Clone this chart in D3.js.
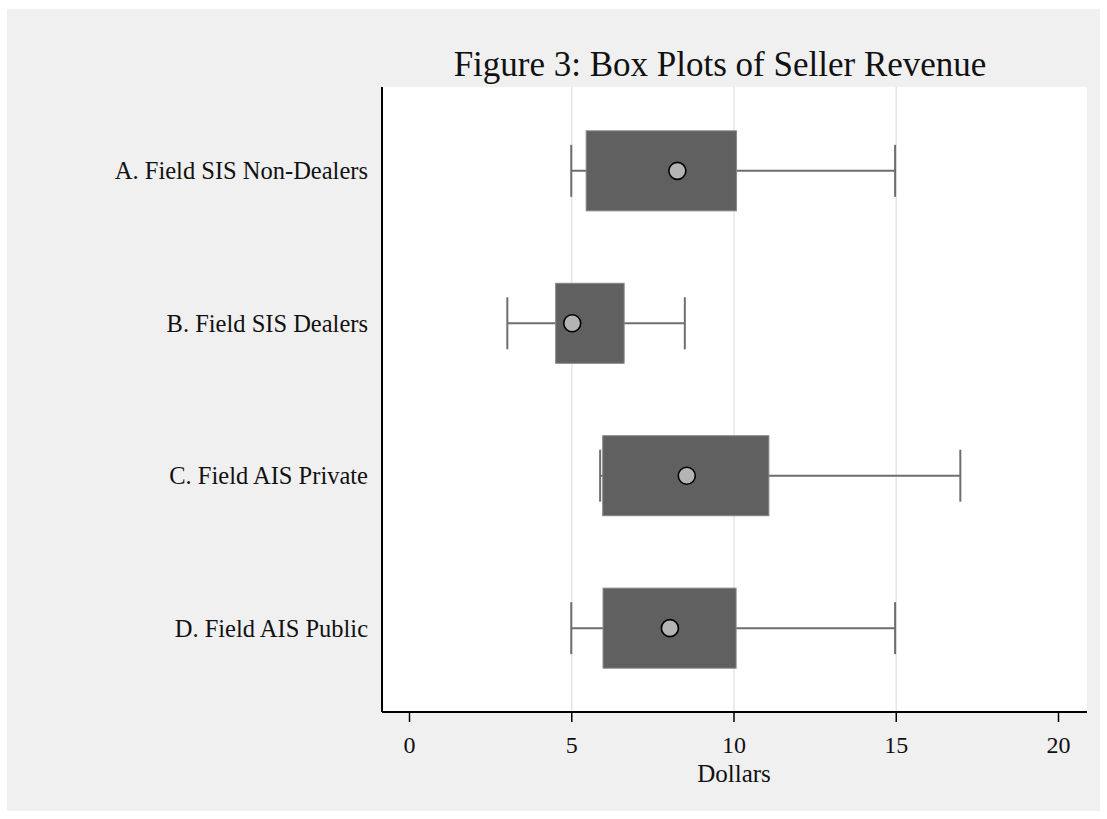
<!DOCTYPE html>
<html>
<head>
  <meta charset="UTF-8">
  <script src="https://d3js.org/d3.v7.min.js"></script>
  <style>
    body { margin: 0; background: #fff; }
    text { font-family: "Liberation Serif", "DejaVu Serif", serif; fill: #111; }
  </style>
</head>
<body>
  <svg id="chart" width="1107" height="819"></svg>

  <script>
    // data
    let categories = ["A. Field SIS Non-Dealers", "B. Field SIS Dealers", "C. Field AIS Private", "D. Field AIS Public"];
    let lowWhisker = [5.0, 3.03, 5.89, 5.0];
    let q1 = [5.46, 4.52, 5.97, 5.98];
    let centers = [8.27, 5.03, 8.56, 8.04];
    let q3 = [10.09, 6.63, 11.09, 10.08];
    let highWhisker = [14.98, 8.5, 16.99, 14.98];
    let xTicks = [0, 5, 10, 15, 20];
    let gridTicks = [5, 10, 15];

    let svg = d3.select("#chart");

    // outer gray panel
    svg.append("rect")
      .attr("x", 7).attr("y", 9)
      .attr("width", 1093).attr("height", 802)
      .attr("fill", "#f0f0f0");

    let plot = { left: 383, right: 1087, top: 87, bottom: 712 };

    svg.append("rect")
      .attr("x", plot.left).attr("y", plot.top)
      .attr("width", plot.right - plot.left).attr("height", plot.bottom - plot.top)
      .attr("fill", "#fff");

    let xScale = d3.scaleLinear()
      .domain([0, 20])
      .range([409, 1058]);

    let yScale = d3.scalePoint()
      .domain(categories)
      .range([plot.top, plot.bottom])
      .padding(0.55);

    // gridlines
    svg.append("g")
      .attr("transform", `translate(0, ${plot.bottom})`)
      .call(d3.axisBottom(xScale).tickValues(gridTicks).tickSize(-(plot.bottom - plot.top)).tickFormat(""))
      .call(g => g.select(".domain").remove())
      .selectAll("line")
      .attr("stroke", "#e6e6e6")
      .attr("stroke-width", 1.5);

    // x axis
    let xAxis = svg.append("g")
      .attr("transform", `translate(0, ${plot.bottom})`)
      .call(d3.axisBottom(xScale).tickValues(xTicks).tickSize(10).tickSizeOuter(0).tickPadding(14));
    xAxis.select(".domain").remove();
    xAxis.selectAll(".tick line").attr("stroke", "#000").attr("stroke-width", 1.5);
    xAxis.selectAll(".tick text")
      .attr("font-size", 24)
      .attr("font-family", "Liberation Serif, serif")
      .attr("fill", "#111");

    svg.append("line")
      .attr("x1", plot.left - 1).attr("x2", plot.right)
      .attr("y1", plot.bottom).attr("y2", plot.bottom)
      .attr("stroke", "#000").attr("stroke-width", 2);

    svg.append("line")
      .attr("x1", plot.left - 1).attr("x2", plot.left - 1)
      .attr("y1", plot.top).attr("y2", plot.bottom)
      .attr("stroke", "#000").attr("stroke-width", 2);

    // category labels
    svg.append("g")
      .selectAll("text")
      .data(categories)
      .enter()
      .append("text")
      .attr("x", 368)
      .attr("y", d => yScale(d))
      .attr("dy", "0.35em")
      .attr("text-anchor", "end")
      .attr("font-size", 24.5)
      .text(d => d);

    // boxes
    let boxH = 80, capH = 52;
    let rows = categories.map((c, i) => ({
      cat: c, lo: lowWhisker[i], q1: q1[i], mid: centers[i], q3: q3[i], hi: highWhisker[i]
    }));

    let box = svg.append("g")
      .selectAll("g")
      .data(rows)
      .enter()
      .append("g");

    box.append("line")
      .attr("x1", d => xScale(d.lo)).attr("x2", d => xScale(d.hi))
      .attr("y1", d => yScale(d.cat)).attr("y2", d => yScale(d.cat))
      .attr("stroke", "#6e6e6e").attr("stroke-width", 2);

    box.append("line")
      .attr("x1", d => xScale(d.lo)).attr("x2", d => xScale(d.lo))
      .attr("y1", d => yScale(d.cat) - capH / 2).attr("y2", d => yScale(d.cat) + capH / 2)
      .attr("stroke", "#6e6e6e").attr("stroke-width", 2);

    box.append("line")
      .attr("x1", d => xScale(d.hi)).attr("x2", d => xScale(d.hi))
      .attr("y1", d => yScale(d.cat) - capH / 2).attr("y2", d => yScale(d.cat) + capH / 2)
      .attr("stroke", "#6e6e6e").attr("stroke-width", 2);

    box.append("rect")
      .attr("x", d => xScale(d.q1))
      .attr("y", d => yScale(d.cat) - boxH / 2)
      .attr("width", d => xScale(d.q3) - xScale(d.q1))
      .attr("height", boxH)
      .attr("fill", "#606060")
      .attr("stroke", "#858585")
      .attr("stroke-width", 1);

    box.append("circle")
      .attr("cx", d => xScale(d.mid))
      .attr("cy", d => yScale(d.cat))
      .attr("r", 8.5)
      .attr("fill", "#b4b4b4")
      .attr("stroke", "#000")
      .attr("stroke-width", 1.6);

    // titles
    svg.append("text")
      .attr("x", 720)
      .attr("y", 76)
      .attr("text-anchor", "middle")
      .attr("font-size", 35)
      .text("Figure 3: Box Plots of Seller Revenue");

    svg.append("text")
      .attr("x", 734)
      .attr("y", 782)
      .attr("text-anchor", "middle")
      .attr("font-size", 25)
      .text("Dollars");
  </script>
</body>
</html>
